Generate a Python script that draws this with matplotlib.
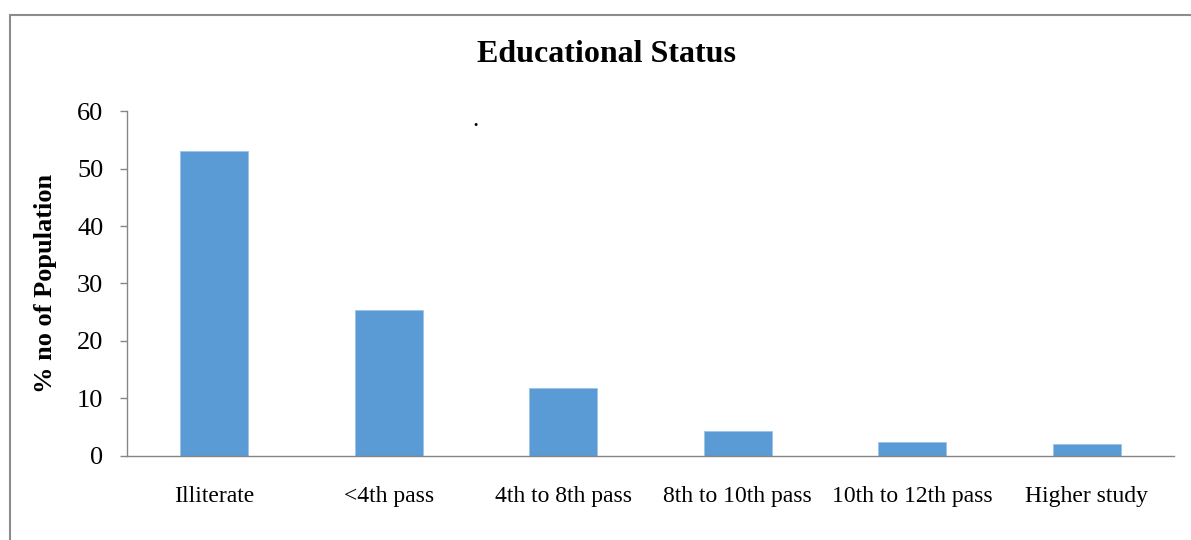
import matplotlib
matplotlib.use('Agg')
import matplotlib.pyplot as plt
from matplotlib.patches import Rectangle

# data
categories = ['Illiterate', '<4th pass', '4th to 8th pass', '8th to 10th pass',
              '10th to 12th pass', 'Higher study']
values = [53.1, 25.3, 11.7, 4.2, 2.4, 2.0]
yticks = [0, 10, 20, 30, 40, 50, 60]

plt.rcParams['font.family'] = ['Liberation Serif', 'DejaVu Serif']

W, H = 1191, 540
fig = plt.figure(figsize=(W / 100, H / 100), dpi=100)
fig.patch.set_facecolor('white')

# outer chart frame (runs off the right and bottom edges)
fig.patches.append(Rectangle((9.5 / W, -0.05), 1.2, 1 - 14.5 / H + 0.05,
                             transform=fig.transFigure, fill=False,
                             edgecolor='#8c8c8c', linewidth=1.5))

ax = fig.add_axes([127 / W, 1 - 455.5 / H, (1174 - 127) / W, (455.5 - 111.3) / H])
x = range(len(categories))
ax.bar(x, values, width=0.39, color='#5B9BD5', edgecolor='#9cc3e6', linewidth=0.6)

ax.set_xlim(-0.5, len(categories) - 0.5)
ax.set_ylim(0, 60)
ax.set_yticks(yticks)
ax.set_xticks(list(x))
ax.set_xticklabels(categories, fontsize=17)
ax.tick_params(axis='x', length=0, pad=22)
ax.tick_params(axis='y', length=5, width=1, color='#868686', pad=12, labelsize=19)

for s in ['top', 'right']:
    ax.spines[s].set_visible(False)
for s in ['left', 'bottom']:
    ax.spines[s].set_color('#868686')
    ax.spines[s].set_linewidth(1)

fig.text(46 / W, 1 - 283 / H, '% no of Population', rotation=90, fontsize=19,
         fontweight='bold', ha='center', va='center')
fig.text(606 / W, 1 - 62 / H, 'Educational Status', fontsize=23,
         fontweight='bold', ha='center', va='baseline')
fig.text(475 / W, 1 - 126 / H, '.', fontsize=18, ha='center', va='baseline')

fig.savefig('out.png', dpi=100, facecolor='white')
